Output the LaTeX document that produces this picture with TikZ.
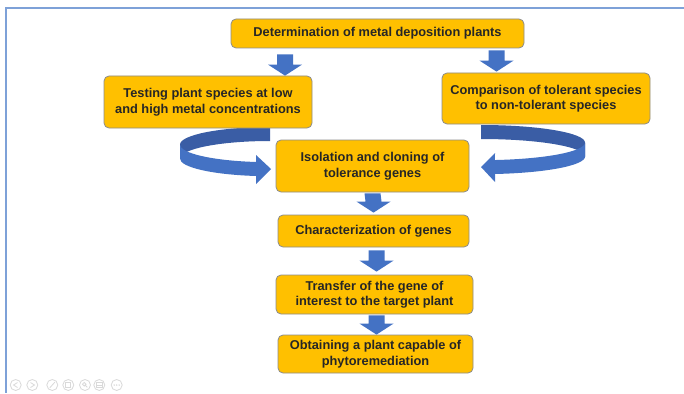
\documentclass[tikz,border=0pt]{standalone}
\usepackage{fontspec}
\setmainfont{Liberation Sans}
\usetikzlibrary{calc}
\definecolor{boxfill}{HTML}{FFC000}
\definecolor{boxline}{HTML}{8C8C8C}
\definecolor{arrblue}{HTML}{4472C4}
\definecolor{arrdark}{HTML}{3A5DA5}
\definecolor{txt}{HTML}{262626}
\definecolor{framec}{HTML}{7EA1D8}
\definecolor{iconc}{HTML}{D9D9D9}
\newcommand\blockdown[2]{%
  \fill[arrblue] ($#1+(-8,0)$) -- ($#2+(-8,-11)$) -- ($#2+(-17,-11)$) -- #2
    -- ($#2+(17,-11)$) -- ($#2+(8,-11)$) -- ($#1+(8,0)$) -- cycle;}
\begin{document}
\begin{tikzpicture}[x=1pt,y=-1pt,
  box/.style={draw=boxline, line width=0.8pt, fill=boxfill, rounded corners=5pt,
    align=center, inner sep=0pt, text=txt,
    font=\fontsize{12.8}{15.5}\selectfont\bfseries},
  icon/.style={draw=iconc, line width=0.8pt}]
\useasboundingbox (0,0) rectangle (684,393);
\fill[white] (0,0) rectangle (684,393);
% frame
\draw[framec, line width=1.6pt] (5,8) -- (684,8);
\draw[framec, line width=1.6pt] (6,8) -- (6,393);

% curved ribbons (behind boxes)
% left ribbon: cx=270 cy=144.6 rx=90 ry=17.6 h=14
\fill[arrdark] (270,127) arc[start angle=270, end angle=180, x radius=90, y radius=17.6]
  -- (180,158.6) arc[start angle=180, end angle=270, x radius=90, y radius=17.6] -- cycle;
\fill[arrblue] (180,144.6) arc[start angle=180, end angle=98.95, x radius=90, y radius=17.6]
  -- (256,155) -- (271,169) -- (256,184) -- (256,176)
  arc[start angle=98.95, end angle=180, x radius=90, y radius=17.6] -- cycle;
% right ribbon: cx=481 cy=142.6 rx=104 ry=17.6 h=14
\fill[arrdark] (481,125) arc[start angle=270, end angle=360, x radius=104, y radius=17.6]
  -- (585,156.6) arc[start angle=360, end angle=270, x radius=104, y radius=17.6] -- cycle;
\fill[arrblue] (585,142.6) arc[start angle=0, end angle=82.3, x radius=104, y radius=17.6]
  -- (495,153) -- (481,167) -- (495,182) -- (495,174)
  arc[start angle=82.3, end angle=0, x radius=104, y radius=17.6] -- cycle;

% boxes
\node[box, minimum width=293pt, minimum height=29pt] (b1) at (377.5,33.5)
  {Determination of metal deposition plants};
\node[box, minimum width=208pt, minimum height=52pt] (b2) at (208,102)
  {Testing plant species at low\\and high metal concentrations};
\node[box, minimum width=208pt, minimum height=51pt] (b3) at (546,98.5)
  {Comparison of tolerant species\\to non-tolerant species};
\node[box, minimum width=193pt, minimum height=52pt] (b4) at (372.5,166)
  {Isolation and cloning of\\tolerance genes};
\node[box, minimum width=191pt, minimum height=32pt] (b5) at (373.5,231)
  {Characterization of genes};
\node[box, minimum width=197pt, minimum height=39pt] (b6) at (374.5,294.5)
  {Transfer of the gene of\\interest to the target plant};
\node[box, minimum width=195pt, minimum height=38pt] (b7) at (375.5,354)
  {Obtaining a plant capable of\\phytoremediation};

% block arrows
\blockdown{($(b1.south)+(-92.5,6)$)}{($(b2.north)+(77,0)$)}
\blockdown{($(b1.south)+(119,2)$)}{($(b3.north)+(-49.5,-1)$)}
\blockdown{($(b4.south)+(0,1)$)}{($(b5.north)+(0,-2)$)}
\blockdown{($(b5.south)+(3,3)$)}{($(b6.north)+(2,-3)$)}
\blockdown{($(b6.south)+(2,1)$)}{($(b7.north)+(1,0)$)}

% slideshow controls
\foreach \x in {15.7,32.3,52.3,68.3,85,99.3,116.7}
  \draw[icon] (\x,385) circle[radius=5.5];
\draw[icon] (17.5,382.5) -- (13.5,385) -- (17.5,387.5);
\draw[icon] (30.5,382.5) -- (34.5,385) -- (30.5,387.5);
\draw[icon] (49.8,387.8) -- (54.8,382.2);
\draw[icon] (65.8,382.5) rectangle (70.8,387.5);
\draw[icon] (84.2,384.2) circle[radius=1.8] (85.5,385.5) -- (87.3,387.3);
\draw[icon] (96.5,382.5) rectangle (102.1,387.5) (96.5,385) -- (102.1,385);
\fill[iconc] (114.2,385) circle[radius=0.8] (116.7,385) circle[radius=0.8] (119.2,385) circle[radius=0.8];
\end{tikzpicture}
\end{document}
